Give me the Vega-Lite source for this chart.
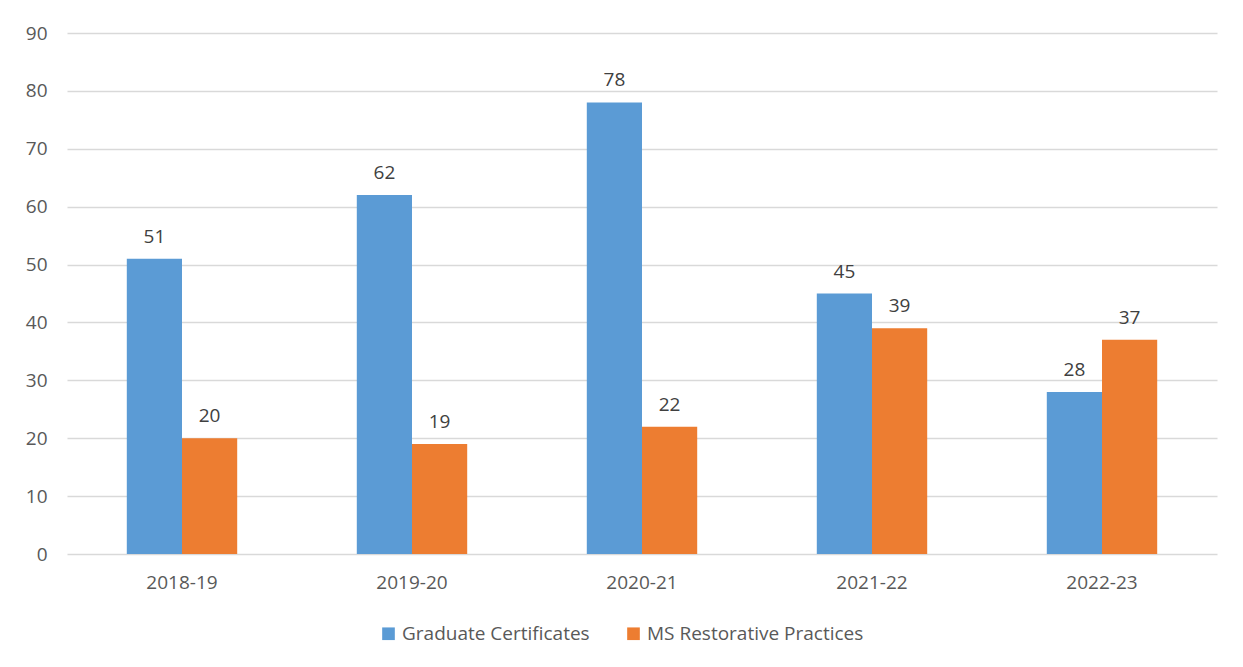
{
  "$schema": "https://vega.github.io/schema/vega-lite/v6.json",
  "width": 1150,
  "height": 521,
  "autosize": {"type": "none"},
  "padding": {"left": 67, "top": 33, "right": 26, "bottom": 113},
  "background": "white",
  "data": {"values": [
    {"year": "2018-19", "series": "Graduate Certificates", "value": 51},
    {"year": "2018-19", "series": "MS Restorative Practices", "value": 20},
    {"year": "2019-20", "series": "Graduate Certificates", "value": 62},
    {"year": "2019-20", "series": "MS Restorative Practices", "value": 19},
    {"year": "2020-21", "series": "Graduate Certificates", "value": 78},
    {"year": "2020-21", "series": "MS Restorative Practices", "value": 22},
    {"year": "2021-22", "series": "Graduate Certificates", "value": 45},
    {"year": "2021-22", "series": "MS Restorative Practices", "value": 39},
    {"year": "2022-23", "series": "Graduate Certificates", "value": 28},
    {"year": "2022-23", "series": "MS Restorative Practices", "value": 37}
  ]},
  "encoding": {
    "x": {"field": "year", "type": "nominal", "title": null,
      "scale": {"paddingInner": 0.52, "paddingOuter": 0.26},
      "axis": {"labelAngle": 0, "domain": false, "ticks": false, "labelPadding": 19, "labelFontSize": 19, "labelColor": "#595959", "labelFont": "Open Sans"}},
    "xOffset": {"field": "series", "type": "nominal", "scale": {"paddingInner": 0, "paddingOuter": 0}},
    "y": {"field": "value", "type": "quantitative", "title": null,
      "scale": {"domain": [0, 90], "nice": false},
      "axis": {"values": [0,10,20,30,40,50,60,70,80,90], "domain": false, "ticks": false, "labelPadding": 20, "labelFontSize": 19, "labelColor": "#595959", "labelFont": "Open Sans", "gridColor": "#D9D9D9", "gridWidth": 1.5}}
  },
  "layer": [
    {
      "mark": {"type": "bar"},
      "encoding": {
        "color": {"field": "series", "type": "nominal", "title": null,
          "scale": {"domain": ["Graduate Certificates", "MS Restorative Practices"], "range": ["#5B9BD5", "#ED7D31"]},
          "legend": {"orient": "none", "direction": "horizontal", "legendX": 312, "legendY": 591, "symbolType": "square", "symbolSize": 160, "symbolStrokeWidth": 0, "labelFontSize": 19, "labelColor": "#595959", "labelFont": "Open Sans", "labelLimit": 0, "columnPadding": 34, "labelOffset": 4}}
      }
    },
    {
      "mark": {"type": "text", "baseline": "bottom", "dy": -12, "fontSize": 19, "color": "#404040", "font": "Open Sans"},
      "encoding": {"text": {"field": "value", "type": "quantitative"}}
    }
  ],
  "config": {"view": {"stroke": null}}
}
